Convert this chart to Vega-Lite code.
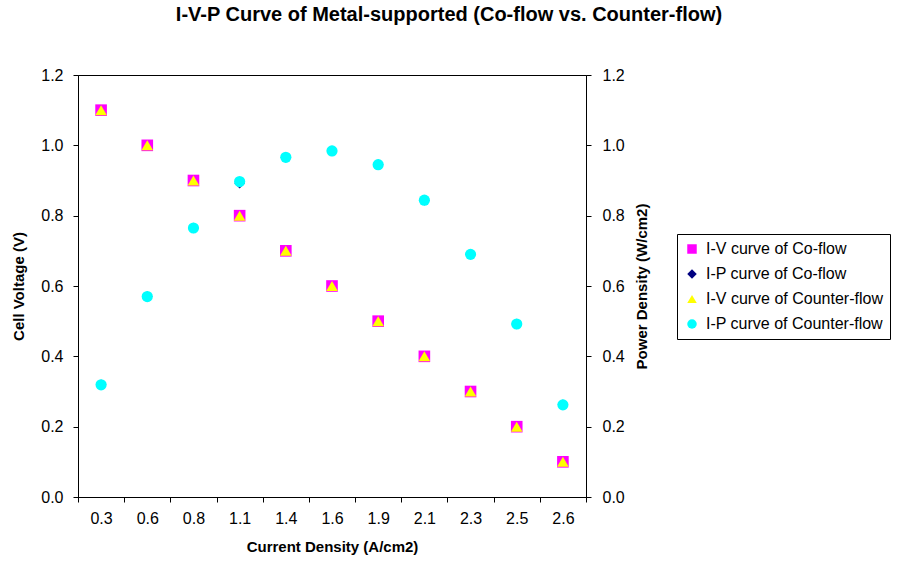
{
  "$schema": "https://vega.github.io/schema/vega-lite/v6.json",
  "width": 508,
  "height": 422,
  "autosize": {"type": "none"},
  "padding": {"left": 78, "top": 75, "right": 312, "bottom": 68},
  "background": "white",
  "config": {
    "font": "Liberation Sans",
    "view": {"stroke": "black", "strokeWidth": 1},
    "axis": {
      "grid": false,
      "domainColor": "black",
      "tickColor": "black",
      "tickSize": 5,
      "labelColor": "black",
      "labelFontSize": 16,
      "titleColor": "black",
      "titleFontSize": 15,
      "titleFontWeight": "bold"
    }
  },
  "title": {
    "text": "I-V-P Curve of Metal-supported (Co-flow vs. Counter-flow)",
    "fontSize": 20,
    "fontWeight": "bold",
    "color": "black",
    "anchor": "middle",
    "frame": "group",
    "dx": 117,
    "baseline": "alphabetic",
    "offset": 26
  },
  "data": {
    "values": [
      {"current": "0.3", "series": "I-V curve of Co-flow", "kind": "V", "value": 1.1},
      {"current": "0.6", "series": "I-V curve of Co-flow", "kind": "V", "value": 1.0},
      {"current": "0.8", "series": "I-V curve of Co-flow", "kind": "V", "value": 0.9},
      {"current": "1.1", "series": "I-V curve of Co-flow", "kind": "V", "value": 0.8},
      {"current": "1.4", "series": "I-V curve of Co-flow", "kind": "V", "value": 0.7},
      {"current": "1.6", "series": "I-V curve of Co-flow", "kind": "V", "value": 0.6},
      {"current": "1.9", "series": "I-V curve of Co-flow", "kind": "V", "value": 0.5},
      {"current": "2.1", "series": "I-V curve of Co-flow", "kind": "V", "value": 0.4},
      {"current": "2.3", "series": "I-V curve of Co-flow", "kind": "V", "value": 0.3},
      {"current": "2.5", "series": "I-V curve of Co-flow", "kind": "V", "value": 0.2},
      {"current": "2.6", "series": "I-V curve of Co-flow", "kind": "V", "value": 0.1},
      {"current": "0.3", "series": "I-V curve of Counter-flow", "kind": "V", "value": 1.1},
      {"current": "0.6", "series": "I-V curve of Counter-flow", "kind": "V", "value": 1.0},
      {"current": "0.8", "series": "I-V curve of Counter-flow", "kind": "V", "value": 0.9},
      {"current": "1.1", "series": "I-V curve of Counter-flow", "kind": "V", "value": 0.8},
      {"current": "1.4", "series": "I-V curve of Counter-flow", "kind": "V", "value": 0.7},
      {"current": "1.6", "series": "I-V curve of Counter-flow", "kind": "V", "value": 0.6},
      {"current": "1.9", "series": "I-V curve of Counter-flow", "kind": "V", "value": 0.5},
      {"current": "2.1", "series": "I-V curve of Counter-flow", "kind": "V", "value": 0.4},
      {"current": "2.3", "series": "I-V curve of Counter-flow", "kind": "V", "value": 0.3},
      {"current": "2.5", "series": "I-V curve of Counter-flow", "kind": "V", "value": 0.2},
      {"current": "2.6", "series": "I-V curve of Counter-flow", "kind": "V", "value": 0.1},
      {"current": "0.3", "series": "I-P curve of Co-flow", "kind": "PC", "value": 0.319},
      {"current": "0.6", "series": "I-P curve of Co-flow", "kind": "PC", "value": 0.57},
      {"current": "0.8", "series": "I-P curve of Co-flow", "kind": "PC", "value": 0.765},
      {"current": "1.1", "series": "I-P curve of Co-flow", "kind": "PC", "value": 0.892},
      {"current": "1.4", "series": "I-P curve of Co-flow", "kind": "PC", "value": 0.966},
      {"current": "1.6", "series": "I-P curve of Co-flow", "kind": "PC", "value": 0.984},
      {"current": "1.9", "series": "I-P curve of Co-flow", "kind": "PC", "value": 0.945},
      {"current": "2.1", "series": "I-P curve of Co-flow", "kind": "PC", "value": 0.844},
      {"current": "2.3", "series": "I-P curve of Co-flow", "kind": "PC", "value": 0.69},
      {"current": "2.5", "series": "I-P curve of Co-flow", "kind": "PC", "value": 0.492},
      {"current": "2.6", "series": "I-P curve of Co-flow", "kind": "PC", "value": 0.262},
      {"current": "0.3", "series": "I-P curve of Counter-flow", "kind": "PX", "value": 0.319},
      {"current": "0.6", "series": "I-P curve of Counter-flow", "kind": "PX", "value": 0.57},
      {"current": "0.8", "series": "I-P curve of Counter-flow", "kind": "PX", "value": 0.765},
      {"current": "1.1", "series": "I-P curve of Counter-flow", "kind": "PX", "value": 0.897},
      {"current": "1.4", "series": "I-P curve of Counter-flow", "kind": "PX", "value": 0.966},
      {"current": "1.6", "series": "I-P curve of Counter-flow", "kind": "PX", "value": 0.984},
      {"current": "1.9", "series": "I-P curve of Counter-flow", "kind": "PX", "value": 0.945},
      {"current": "2.1", "series": "I-P curve of Counter-flow", "kind": "PX", "value": 0.844},
      {"current": "2.3", "series": "I-P curve of Counter-flow", "kind": "PX", "value": 0.69},
      {"current": "2.5", "series": "I-P curve of Counter-flow", "kind": "PX", "value": 0.492},
      {"current": "2.6", "series": "I-P curve of Counter-flow", "kind": "PX", "value": 0.262}
    ]
  },
  "encoding": {
    "x": {
      "field": "current",
      "type": "ordinal",
      "sort": null,
      "scale": {"paddingInner": 0, "paddingOuter": 0},
      "axis": {
        "title": "Current Density (A/cm2)",
        "labelAngle": 0,
        "tickBand": "extent",
        "labelPadding": 8,
        "titlePadding": 13
      }
    },
    "color": {
      "field": "series",
      "type": "nominal",
      "scale": {
        "domain": ["I-V curve of Co-flow", "I-P curve of Co-flow", "I-V curve of Counter-flow", "I-P curve of Counter-flow"],
        "range": ["#FF00FF", "#000080", "#FFFF00", "#00FFFF"]
      },
      "legend": {
        "title": null,
        "orient": "none",
        "legendX": 599,
        "legendY": 159,
        "strokeColor": "black",
        "fillColor": "white",
        "padding": 7,
        "labelFontSize": 16,
        "labelColor": "black",
        "symbolSize": 90,
        "symbolStrokeWidth": 0,
        "rowPadding": 9,
        "labelOffset": 6,
        "labelLimit": 300
      }
    },
    "shape": {
      "field": "series",
      "type": "nominal",
      "scale": {
        "domain": ["I-V curve of Co-flow", "I-P curve of Co-flow", "I-V curve of Counter-flow", "I-P curve of Counter-flow"],
        "range": ["square", "diamond", "triangle-up", "circle"]
      },
      "legend": {
        "title": null,
        "orient": "none",
        "legendX": 599,
        "legendY": 159
      }
    }
  },
  "layer": [
    {
      "transform": [{"filter": "datum.kind == 'V'"}],
      "mark": {"type": "point", "filled": true, "opacity": 1, "size": 135},
      "encoding": {
        "y": {
          "field": "value",
          "type": "quantitative",
          "scale": {"domain": [0, 1.2], "nice": false},
          "axis": {
            "orient": "left",
            "title": "Cell Voltage (V)",
            "values": [0, 0.2, 0.4, 0.6, 0.8, 1.0, 1.2],
            "format": ".1f",
            "labelPadding": 10,
            "titlePadding": 14
          }
        }
      }
    },
    {
      "encoding": {
        "y": {
          "field": "value",
          "type": "quantitative",
          "scale": {"domain": [0, 1.2], "nice": false},
          "axis": {
            "orient": "right",
            "title": "Power Density (W/cm2)",
            "titleAngle": 270,
            "titleBaseline": "top",
            "values": [0, 0.2, 0.4, 0.6, 0.8, 1.0, 1.2],
            "format": ".1f",
            "labelPadding": 11,
            "titlePadding": 10
          }
        }
      },
      "layer": [
        {
          "transform": [{"filter": "datum.kind == 'PC'"}],
          "mark": {"type": "point", "filled": true, "opacity": 1, "size": 110, "dx": 1, "dy": 1.5}
        },
        {
          "transform": [{"filter": "datum.kind == 'PX'"}],
          "mark": {"type": "point", "filled": true, "opacity": 1, "size": 125}
        }
      ]
    }
  ],
  "resolve": {"scale": {"y": "independent"}}
}
